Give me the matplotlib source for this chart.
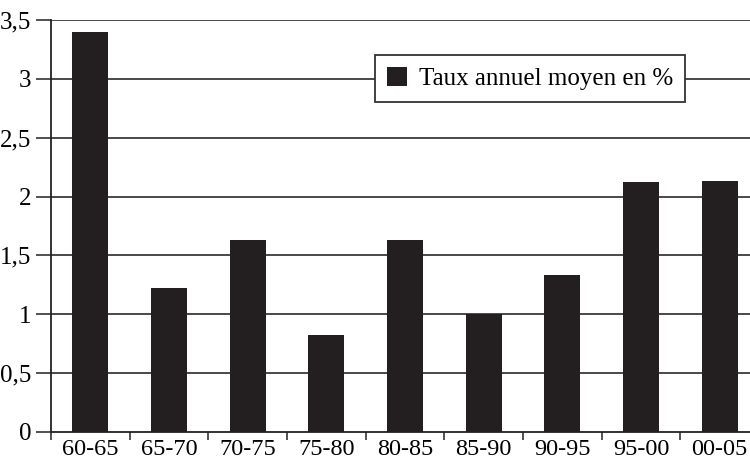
import matplotlib
matplotlib.use("Agg")
import matplotlib.pyplot as plt
import numpy as np

periods = ["60-65", "65-70", "70-75", "75-80", "80-85", "85-90", "90-95", "95-00", "00-05"]
taux = [3.4, 1.22, 1.63, 0.82, 1.63, 1.0, 1.33, 2.12, 2.13]
yticks = [0, 0.5, 1, 1.5, 2, 2.5, 3, 3.5]
ylabels = ["0", "0,5", "1", "1,5", "2", "2,5", "3", "3,5"]

plt.rcParams["font.family"] = ["Liberation Serif", "DejaVu Serif"]
BAR = "#231f20"

fig = plt.figure(figsize=(7.5, 4.63), dpi=100)
ax = fig.add_axes([51/750, 1 - 432/463, 708/750, 412/463])

x = np.arange(len(periods))
ax.bar(x, taux, width=0.46, color=BAR, zorder=3, label="Taux annuel moyen en %")

ax.set_ylim(0, 3.5)
ax.set_xlim(-0.5, len(periods) - 0.5)
ax.set_yticks(yticks)
ax.set_yticklabels(ylabels, fontsize=18)
for y in yticks[1:]:
    ax.axhline(y, color="#3a3a3a", lw=1.3, zorder=1)

ax.set_xticks(x)
ax.set_xticklabels(periods, fontsize=17.5)
ax.set_xticks(np.arange(len(periods) + 1) - 0.5, minor=True)
ax.tick_params(axis="x", which="major", length=0, pad=5)
ax.tick_params(axis="x", which="minor", length=6, width=1.2, color="#333333", direction="out")
ax.tick_params(axis="y", length=11, width=1.2, color="#333333", direction="out", pad=3)

for s in ["top", "right"]:
    ax.spines[s].set_visible(False)
for s in ["left", "bottom"]:
    ax.spines[s].set_color("#222222")
    ax.spines[s].set_linewidth(1.3)

leg = ax.legend(loc="upper left", bbox_to_anchor=(0.458, 0.915), borderaxespad=0,
                fontsize=18, fancybox=False, framealpha=1, edgecolor="#333333",
                handlelength=0.8, handleheight=0.8, handletextpad=0.45, borderpad=0.48)
leg.get_frame().set_linewidth(1.3)
leg.set_zorder(5)

fig.savefig("out.png", dpi=100)
